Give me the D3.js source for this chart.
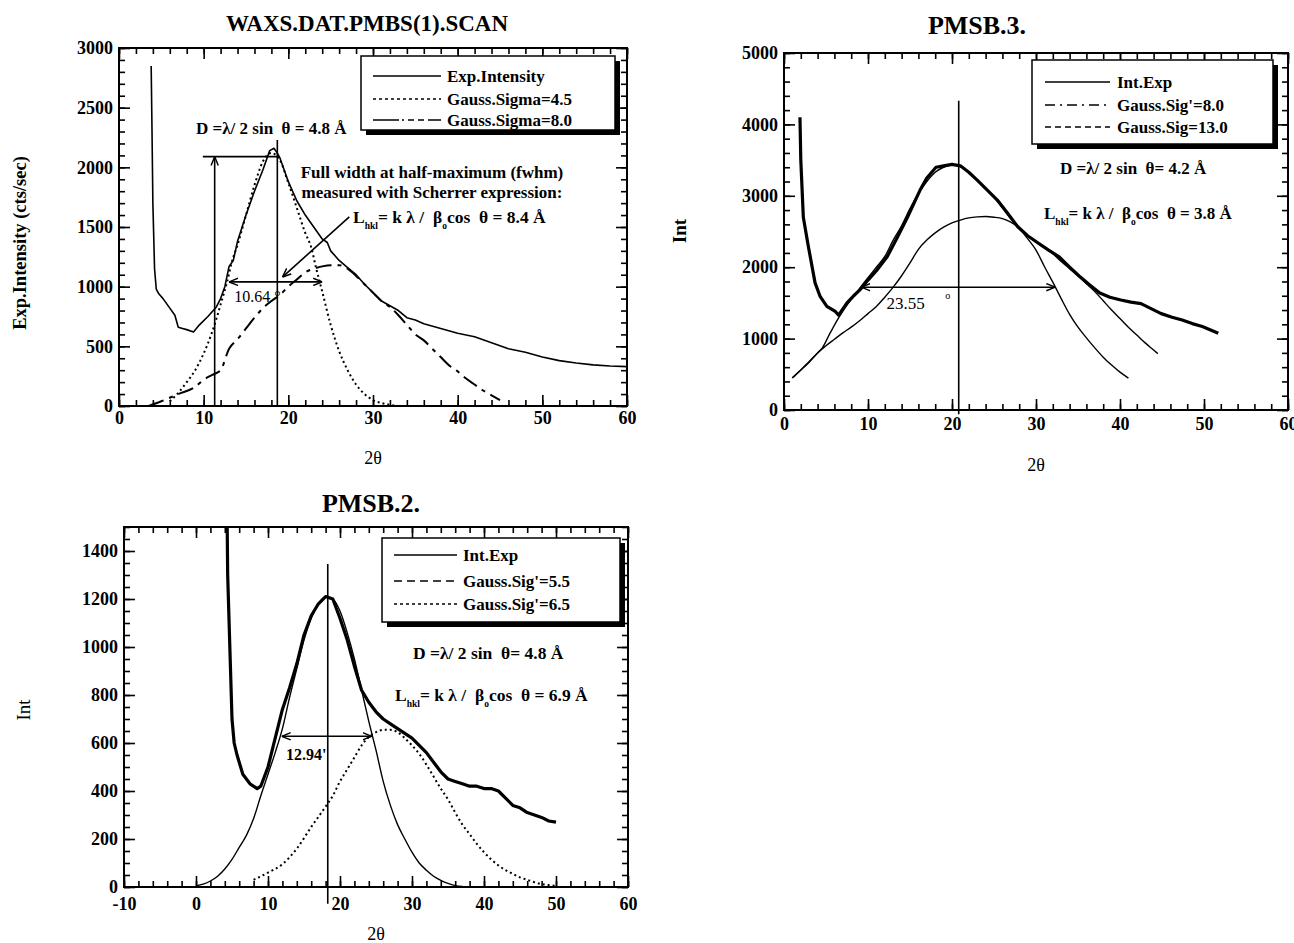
<!DOCTYPE html>
<html>
<head>
<meta charset="utf-8" />
<title>WAXS scans</title>
<script src="https://cdn.jsdelivr.net/npm/d3@7"></script>
<style>
body { margin: 0; background: #fff; }
svg text { font-family: 'Liberation Serif', 'Times New Roman', serif; white-space: pre; fill: #000; }
</style>
</head>
<body>
<svg id="chart" width="1294" height="943"></svg>
<script>
// ---- tick labels ----
const p1XTicks = [0, 10, 20, 30, 40, 50, 60];
const p1YTicks = [0, 500, 1000, 1500, 2000, 2500, 3000];
const p2XTicks = [0, 10, 20, 30, 40, 50, 60];
const p2YTicks = [0, 1000, 2000, 3000, 4000, 5000];
const p3XTicks = [-10, 0, 10, 20, 30, 40, 50, 60];
const p3YTicks = [0, 200, 400, 600, 800, 1000, 1200, 1400];

// ---- WAXS.DAT.PMBS(1).SCAN  [2theta, counts] ----
const p1Exp = [[3.8,2850],[3.9,2300],[4.0,1700],[4.2,1150],[4.4,980],[4.7,940],[5.2,900],[6,820],[6.6,760],[7,660],[7.5,650],[8,640],[8.8,620],[9.5,680],[10.5,750],[11.5,830],[12,900],[12.5,1000],[13,1170],[13.5,1220],[14,1380],[15,1600],[16,1800],[17,1980],[17.8,2140],[18.3,2160],[18.7,2120],[19,2080],[20,1880],[21,1720],[22,1600],[23,1500],[24,1400],[24.6,1370],[25,1300],[26,1220],[27,1160],[28,1100],[29,1020],[30,950],[31,880],[32,840],[33,800],[34,740],[35,720],[36,690],[38,650],[40,610],[42,580],[44,530],[46,480],[48,450],[50,410],[52,380],[54,360],[56,345],[58,335],[60,330]];
const p1Sigma45 = [[6,40],[7,110],[8,200],[9,300],[10,440],[11,620],[12,850],[12.8,1050],[13.3,1200],[14,1350],[15,1600],[16,1850],[17,2050],[18,2120],[19,2060],[20,1870],[21,1660],[22,1450],[22.7,1330],[23.3,1150],[24,960],[25,680],[26,460],[27,300],[28,180],[29,100],[30,50],[31,25],[32,10],[33,0]];
const p1Sigma80 = [[3.5,0],[5,40],[7,100],[9,160],[10,220],[11,260],[12,300],[13,480],[14,560],[15,650],[16,740],[17,820],[18,880],[19,930],[20,1000],[21,1060],[22,1120],[23,1150],[24,1170],[25,1180],[26,1180],[27,1150],[28,1090],[29,1020],[30,950],[31,880],[32,830],[33,760],[34,680],[35,600],[36,550],[37,480],[38,410],[39,340],[40,290],[41,230],[42,180],[43,130],[44,90],[45,50]];

// ---- PMSB.3. ----
const p2Exp = [[1.9,4100],[2.0,3500],[2.3,2700],[2.9,2290],[3.7,1780],[4.3,1590],[5.1,1450],[6.1,1380],[6.5,1330],[7.5,1500],[8.3,1600],[9.1,1690],[10,1820],[11,1950],[12.3,2150],[13.5,2420],[14.7,2700],[16.2,3080],[17,3250],[18.1,3400],[19,3420],[20,3440],[21,3420],[22,3330],[23,3220],[24.2,3080],[25.4,2940],[26.6,2760],[27.8,2570],[29,2440],[30.3,2335],[31.5,2240],[32.7,2150],[34,2000],[35.2,1870],[36.4,1750],[37.6,1640],[38.8,1580],[40.1,1540],[41.3,1510],[42.5,1490],[43.7,1420],[44.9,1350],[46.2,1300],[47.4,1260],[48.6,1210],[49.8,1170],[51,1110],[51.7,1075]];
const p2Sig8 = [[1,450],[2,560],[3,680],[4,800],[4.5,860],[5.5,1080],[6.5,1290],[7.5,1470],[8.3,1590],[9.5,1780],[11,2000],[12,2150],[13,2380],[14,2580],[15,2820],[16,3030],[17,3200],[18,3330],[19,3400],[20,3430],[21,3410],[22,3330],[23,3220],[24,3100],[25,2980],[26,2830],[27,2680],[28,2550],[29,2440],[30,2350],[31,2270],[32,2190],[33,2080],[34,1980],[35,1880],[36,1770],[37,1660],[38,1530],[39,1400],[40,1280],[41,1160],[42,1050],[43,940],[44,840],[44.5,790]];
const p2Sig13 = [[1,450],[2,560],[3,670],[4,800],[5,900],[6,990],[7,1080],[8,1160],[9,1250],[10,1350],[11,1450],[12,1580],[13,1720],[14,1880],[15,2060],[16,2250],[17,2380],[18,2480],[19,2560],[20,2620],[21,2660],[22,2690],[23,2705],[24,2710],[25,2700],[26,2680],[27,2630],[28,2550],[29,2400],[30,2240],[31,2010],[32,1790],[33,1560],[34,1340],[35,1160],[36,1010],[37,870],[38,740],[39,630],[40,530],[41,447]];

// ---- PMSB.2. ----
const p3Exp = [[4.3,1600],[4.4,1300],[4.8,900],[5.0,700],[5.3,600],[5.7,550],[6.5,470],[7.5,430],[8.5,410],[9,420],[10,500],[11,620],[12,740],[13,830],[14,930],[15,1050],[16,1130],[17,1180],[18,1210],[19,1200],[20,1120],[21,1030],[22,920],[23,820],[24,770],[25,730],[26,700],[27,680],[28,660],[29,640],[30,620],[31,590],[32,560],[33,520],[34,480],[35,450],[36,440],[37,430],[38,420],[39,420],[40,410],[41,410],[42,400],[43,370],[44,340],[45,330],[46,310],[47,300],[48,290],[49,275],[50,270]];
const p3Sig55 = [[0,5],[1,12],[2,25],[3,45],[4,75],[5,115],[6,165],[7,215],[8,285],[9,380],[10,470],[11,560],[12,660],[13,790],[14,910],[15,1030],[16,1120],[17,1180],[18,1210],[19,1200],[20,1150],[21,1060],[22,950],[23,820],[24,690],[25,570],[26,440],[27,340],[28,260],[29,200],[30,145],[31,100],[32,70],[33,45],[34,28],[35,15],[36,6],[37,2]];
const p3Sig65 = [[8,30],[10,60],[12,95],[14,160],[16,250],[18,335],[19,380],[20,440],[21,490],[22,540],[23,590],[24,625],[25,645],[26,655],[27,655],[28,645],[29,620],[30,590],[31,555],[32,510],[33,460],[34,410],[35,365],[36,310],[37,260],[38,220],[39,180],[40,145],[41,115],[42,90],[43,70],[44,55],[45,40],[46,30],[47,20],[48,12],[49,8],[50,5]];

const svg = d3.select('#chart');

// arrow heads
const defs = svg.append('defs');
defs.append('marker').attr('id', 'arr').attr('viewBox', '0 0 10 10')
  .attr('refX', 10).attr('refY', 5).attr('markerWidth', 9).attr('markerHeight', 9)
  .attr('markerUnits', 'userSpaceOnUse').attr('orient', 'auto-start-reverse')
  .append('path').attr('d', 'M0,1 L10,5 L0,9').attr('fill', 'none').attr('stroke', '#000').attr('stroke-width', 1.6);

function panel(c) {
  const g = svg.append('g');
  const x = d3.scaleLinear().domain(c.xDomain).range([c.left, c.right]);
  const y = d3.scaleLinear().domain(c.yDomain).range([c.bottom, c.top]);
  const xMinor = d3.range(c.xDomain[0], c.xDomain[1] + 0.01, c.xMinor);
  const yMinor = d3.range(c.yDomain[0], c.yDomain[1] + 0.01, c.yMinor);

  g.append('clipPath').attr('id', c.id + 'clip').append('rect')
    .attr('x', c.left).attr('y', c.top).attr('width', c.right - c.left).attr('height', c.bottom - c.top);

  // inward ticks on four sides, minor then major
  const sides = [
    [d3.axisBottom(x), 'translate(0,' + c.bottom + ')', xMinor, c.xTicks, true, c.xPad],
    [d3.axisTop(x), 'translate(0,' + c.top + ')', xMinor, c.xTicks, false, 4],
    [d3.axisLeft(y), 'translate(' + c.left + ',0)', yMinor, c.yTicks, true, 6],
    [d3.axisRight(y), 'translate(' + c.right + ',0)', yMinor, c.yTicks, false, 4]
  ];
  sides.forEach(function(s) {
    const minor = s[0].tickValues(s[2]).tickSize(-6).tickFormat('');
    g.append('g').attr('transform', s[1]).call(minor);
    const major = s[0].tickValues(s[3]).tickSize(-11).tickPadding(s[5])
      .tickFormat(s[4] ? d => String(d) : '');
    g.append('g').attr('class', 'major').attr('transform', s[1]).call(major);
  });
  g.selectAll('.domain').remove();
  g.selectAll('.tick line').attr('stroke', '#000').attr('stroke-width', 1.6);
  g.selectAll('.major text')
    .style('font-family', "'Liberation Serif', 'Times New Roman', serif")
    .style('font-size', '18px').style('font-weight', 'bold');

  g.append('rect').attr('x', c.left).attr('y', c.top)
    .attr('width', c.right - c.left).attr('height', c.bottom - c.top)
    .attr('fill', 'none').attr('stroke', '#000').attr('stroke-width', 2);

  // titles
  g.append('text').attr('x', c.titleX).attr('y', c.titleY).attr('text-anchor', 'middle')
    .style('font-size', c.titleSize + 'px').style('font-weight', 'bold').text(c.title);
  g.append('text').attr('x', (c.left + c.right) / 2).attr('y', c.bottom + c.xLabelDy).attr('text-anchor', 'middle')
    .style('font-size', '18px').text('2θ');
  g.append('text').attr('transform', 'translate(' + c.yLabelX + ',' + c.yLabelY + ') rotate(-90)')
    .attr('text-anchor', 'middle').style('font-size', c.yLabelSize + 'px')
    .style('font-weight', c.yLabelBold ? 'bold' : 'normal').text(c.yLabel);

  // curves
  const plot = g.append('g').attr('clip-path', 'url(#' + c.id + 'clip)');
  c.series.forEach(function(s) {
    const line = d3.line().x(d => x(d[0])).y(d => y(d[1]))
      .curve(s.smooth ? d3.curveMonotoneX : d3.curveLinear);
    plot.append('path').datum(s.data).attr('d', line)
      .attr('fill', 'none').attr('stroke', '#000')
      .attr('stroke-width', s.width).attr('stroke-dasharray', s.dash || null)
      .attr('stroke-linejoin', 'round');
  });

  // legend
  const L = c.legend;
  g.append('rect').attr('x', L.x + 5).attr('y', L.y + 5).attr('width', L.w).attr('height', L.h).attr('fill', '#000');
  g.append('rect').attr('x', L.x).attr('y', L.y).attr('width', L.w).attr('height', L.h)
    .attr('fill', '#fff').attr('stroke', '#000').attr('stroke-width', 1.5);
  L.items.forEach(function(it, i) {
    const yy = L.y + L.rows[i];
    g.append('line').attr('x1', L.x + L.lx0).attr('x2', L.x + L.lx1).attr('y1', yy).attr('y2', yy)
      .attr('stroke', '#000').attr('stroke-width', 1.6).attr('stroke-dasharray', it.dash || null);
    g.append('text').attr('x', L.x + L.tx).attr('y', yy + 6)
      .style('font-size', '17px').style('font-weight', 'bold').text(it.label);
  });

  return { g: g, x: x, y: y };
}

function arrowLine(p, x1, y1, x2, y2, start, end) {
  p.g.append('line').attr('x1', p.x(x1)).attr('y1', p.y(y1)).attr('x2', p.x(x2)).attr('y2', p.y(y2))
    .attr('stroke', '#000').attr('stroke-width', 1.6)
    .attr('marker-start', start ? 'url(#arr)' : null).attr('marker-end', end ? 'url(#arr)' : null);
}

function formula(p, px, py, parts, size) {
  const t = p.g.append('text').attr('x', px).attr('y', py)
    .style('font-size', size + 'px').style('font-weight', 'bold');
  parts.forEach(function(part) {
    if (typeof part === 'string') t.append('tspan').text(part);
    else t.append('tspan').attr('dy', part.dy).style('font-size', part.size + 'px').text(part.t);
  });
  return t;
}

// ---------- panel 1 ----------
const p1 = panel({
  id: 'p1', left: 119, right: 627, top: 48, bottom: 406,
  xDomain: [0, 60], yDomain: [0, 3000], xMinor: 2, yMinor: 100,
  xTicks: p1XTicks, yTicks: p1YTicks, xPad: 5, xLabelDy: 58,
  title: 'WAXS.DAT.PMBS(1).SCAN', titleX: 367, titleY: 31, titleSize: 23,
  yLabel: 'Exp.Intensity (cts/sec)', yLabelX: 26, yLabelY: 243, yLabelSize: 18.5, yLabelBold: true,
  series: [
    { data: p1Exp, width: 1.6 },
    { data: p1Sigma45, width: 2, dash: '2,3', smooth: true },
    { data: p1Sigma80, width: 2, dash: '16,6,4,6', smooth: true }
  ],
  legend: { x: 361, y: 56, w: 254, h: 74, rows: [20, 43, 64], lx0: 12, lx1: 80, tx: 86,
    items: [
      { label: 'Exp.Intensity' },
      { label: 'Gauss.Sigma=4.5', dash: '3,3' },
      { label: 'Gauss.Sigma=8.0', dash: '26,3,2,4,6,4,6,4' }
    ] }
});
p1.g.append('line').attr('x1', p1.x(9.9)).attr('x2', p1.x(18.7)).attr('y1', p1.y(2090)).attr('y2', p1.y(2090))
  .attr('stroke', '#000').attr('stroke-width', 1.6);
arrowLine(p1, 11.3, 0, 11.3, 2090, false, true);
arrowLine(p1, 18.7, 0, 18.7, 2230, false, false);
arrowLine(p1, 13.0, 1040, 24.0, 1040, true, true);
arrowLine(p1, 27.2, 1585, 19.3, 1080, false, true);
p1.g.append('text').attr('x', p1.x(13.6)).attr('y', p1.y(870)).style('font-size', '16px').text('10.64 °');
formula(p1, 196, 134, ['D =λ/ 2 sin  θ = 4.8 Å'], 17);
p1.g.append('text').attr('x', 432).attr('y', 178).attr('text-anchor', 'middle')
  .style('font-size', '17px').style('font-weight', 'bold').text('Full width at half-maximum (fwhm)');
p1.g.append('text').attr('x', 432).attr('y', 198).attr('text-anchor', 'middle')
  .style('font-size', '17px').style('font-weight', 'bold').text('measured with Scherrer expression:');
formula(p1, 353, 223, ['L', { t: 'hkl', dy: 6, size: 9.5 }, { t: '= k λ /  β', dy: -6, size: 17.5 },
  { t: 'o', dy: 6, size: 9.5 }, { t: 'cos  θ = 8.4 Å', dy: -6, size: 17.5 }], 17.5);

// ---------- panel 2 ----------
const p2 = panel({
  id: 'p2', left: 784, right: 1288, top: 53, bottom: 410,
  xDomain: [0, 60], yDomain: [0, 5000], xMinor: 2, yMinor: 200,
  xTicks: p2XTicks, yTicks: p2YTicks, xPad: 7, xLabelDy: 61,
  title: 'PMSB.3.', titleX: 977, titleY: 34, titleSize: 26,
  yLabel: 'Int', yLabelX: 686, yLabelY: 231, yLabelSize: 19, yLabelBold: true,
  series: [
    { data: p2Sig13, width: 1.4, smooth: true },
    { data: p2Sig8, width: 1.4, smooth: true },
    { data: p2Exp, width: 3.2 }
  ],
  legend: { x: 1032, y: 60, w: 241, h: 84, rows: [22, 45, 67], lx0: 13, lx1: 78, tx: 85,
    items: [
      { label: 'Int.Exp' },
      { label: "Gauss.Sig'=8.0", dash: '10,5,2,5' },
      { label: 'Gauss.Sig=13.0', dash: '6,4' }
    ] }
});
arrowLine(p2, 20.8, -60, 20.8, 4330, false, false);
arrowLine(p2, 9.2, 1720, 32.3, 1720, true, true);
p2.g.append('text').attr('x', p2.x(12.2)).attr('y', p2.y(1420)).style('font-size', '17px').text('23.55');
p2.g.append('text').attr('x', p2.x(19.2)).attr('y', p2.y(1560)).style('font-size', '10px').text('o');
formula(p2, 1060, 174, ['D =λ/ 2 sin  θ= 4.2 Å'], 17);
formula(p2, 1044, 219, ['L', { t: 'hkl', dy: 6, size: 9.5 }, { t: '= k λ /  β', dy: -6, size: 17 },
  { t: 'o', dy: 6, size: 9.5 }, { t: 'cos  θ = 3.8 Å', dy: -6, size: 17 }], 17);

// ---------- panel 3 ----------
const p3 = panel({
  id: 'p3', left: 124, right: 628, top: 527, bottom: 887,
  xDomain: [-10, 60], yDomain: [0, 1500], xMinor: 2, yMinor: 50,
  xTicks: p3XTicks, yTicks: p3YTicks, xPad: 10, xLabelDy: 53,
  title: 'PMSB.2.', titleX: 371, titleY: 512, titleSize: 26,
  yLabel: 'Int', yLabelX: 30, yLabelY: 710, yLabelSize: 19, yLabelBold: false,
  series: [
    { data: p3Sig55, width: 1.4, smooth: true },
    { data: p3Sig65, width: 2, dash: '2,3', smooth: true },
    { data: p3Exp, width: 3.2 }
  ],
  legend: { x: 382, y: 538, w: 238, h: 84, rows: [17, 43, 66], lx0: 12, lx1: 75, tx: 81,
    items: [
      { label: 'Int.Exp' },
      { label: "Gauss.Sig'=5.5", dash: '8,5' },
      { label: "Gauss.Sig'=6.5", dash: '3,3' }
    ] }
});
arrowLine(p3, 18.3, -70, 18.3, 1346, false, false);
arrowLine(p3, 11.9, 628, 24.4, 628, true, true);
p3.g.append('text').attr('x', p3.x(12.5)).attr('y', p3.y(530)).style('font-size', '16px').style('font-weight', 'bold').text("12.94'");
formula(p3, 413, 659, ['D =λ/ 2 sin  θ= 4.8 Å'], 17.5);
formula(p3, 395, 701, ['L', { t: 'hkl', dy: 6, size: 9.5 }, { t: '= k λ /  β', dy: -6, size: 17.5 },
  { t: 'o', dy: 6, size: 9.5 }, { t: 'cos  θ = 6.9 Å', dy: -6, size: 17.5 }], 17.5);
</script>
</body>
</html>
